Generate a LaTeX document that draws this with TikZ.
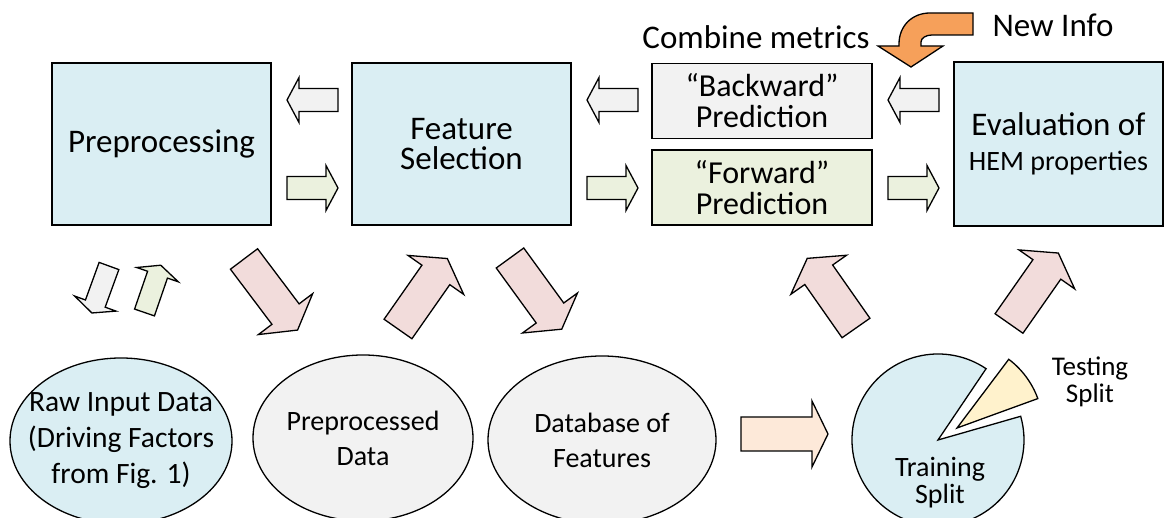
\documentclass[tikz,border=0pt]{standalone}
\usepackage{fontspec}
\setmainfont{Carlito}
\usetikzlibrary{shapes.geometric}
\definecolor{boxblue}{HTML}{DAEEF3}
\definecolor{boxgray}{HTML}{F2F2F2}
\definecolor{boxgreen}{HTML}{EBF1DE}
\definecolor{arrpink}{HTML}{F2DCDB}
\definecolor{arrpeach}{HTML}{FDE9D9}
\definecolor{arrorange}{HTML}{F6A05A}
\definecolor{testyellow}{HTML}{FFF2CC}
\newcommand{\blockarr}[7]{%
  \filldraw[barrow, fill=#7, shift={(#1)}, rotate=#2]
    (0,-#4) -- ({#3-#6},-#4) -- ({#3-#6},-#5) -- (#3,0) -- ({#3-#6},#5) -- ({#3-#6},#4) -- (0,#4) -- cycle;}
\begin{document}
\begin{tikzpicture}[x=1pt,y=1pt,
  box/.style={draw, line width=1.3pt, inner sep=0pt, align=center,
    font=\fontsize{33}{30}\selectfont},
  bigbox/.style={box, fill=boxblue, minimum width=219pt, minimum height=162pt},
  predbox/.style={box, minimum width=220pt, minimum height=75pt, font=\fontsize{32}{31}\selectfont},
  blob/.style={ellipse, draw, line width=1.3pt, inner sep=0pt, align=center,
    font=\fontsize{28}{35}\selectfont},
  barrow/.style={draw, line width=1.3pt, line join=miter},
  lbl/.style={inner sep=0pt, align=center, font=\fontsize{33}{30}\selectfont},
  pielbl/.style={inner sep=0pt, align=center, font=\fontsize{28}{27}\selectfont}]
\useasboundingbox (0,0) rectangle (1165,518);
\clip (0,0) rectangle (1165,518);

% boxes
\node[bigbox] (pre) at (161.5,374) {Preprocessing};
\node[bigbox] (fs) at (461.5,374) {Feature\\Selection};
\node[predbox, fill=boxgray] (back) at (762,417) {``Backward''\\Prediction};
\node[predbox, fill=boxgreen] (fwd) at (762,330.5) {``Forward''\\Prediction};
\node[box, fill=boxblue, minimum width=209pt, minimum height=164pt] (eval) at (1058.5,374) {};
\node[inner sep=0pt, align=center, font=\fontsize{33}{35}\selectfont] (evaltxt) at (eval.center)
  {Evaluation of\\{\fontsize{28}{35}\selectfont HEM properties}};

% ellipses
\node[blob, fill=boxblue, minimum width=222pt, minimum height=166pt] (raw) at (121,77) {};
\node[inner sep=0pt, align=center, font=\fontsize{29.5}{36}\selectfont] (rawtxt) at (raw.center)
  {Raw Input Data\\(Driving Factors\\from Fig. 1)};
\node[blob, fill=boxgray, minimum width=220pt, minimum height=166pt] (ppd) at (363,80) {Preprocessed\\Data};
\node[blob, fill=boxgray, minimum width=228pt, minimum height=168pt] (db) at (602,78) {Database of\\Features};

% pie
\coordinate (piec) at (938,78);
\filldraw[barrow, fill=boxblue] (piec) -- ++(56:86) arc[start angle=56, end angle=376, radius=86] -- cycle;
\coordinate (testc) at (957,90);
\filldraw[barrow, fill=testyellow] (testc) -- ++(20:86) arc[start angle=20, end angle=53, radius=86] -- cycle;
\node[pielbl] (train) at (940,35) {Training\\Split};
\node[pielbl, font=\fontsize{27}{27}\selectfont] (test) at (1090,136) {Testing\\Split};

% labels
\node[lbl] (comb) at (756,481) {Combine metrics};
\node[lbl] (newinfo) at (1053,493) {New Info};

% horizontal block arrows
\blockarr{338,418}{180}{51}{11.5}{22.5}{12}{boxgray}
\blockarr{287,330}{0}{51}{11.5}{22.5}{12}{boxgreen}
\blockarr{638,418}{180}{51}{11.5}{22.5}{12}{boxgray}
\blockarr{587,330}{0}{51}{11.5}{22.5}{12}{boxgreen}
\blockarr{939,418}{180}{51}{11.5}{22.5}{12}{boxgray}
\blockarr{888,330}{0}{51}{11.5}{22.5}{12}{boxgreen}
\blockarr{741,84}{0}{87}{17}{33}{16}{arrpeach}

% diagonal block arrows
\blockarr{244,259}{-53}{89}{17}{34}{20}{arrpink}
\blockarr{398,189}{55}{86}{17}{34}{20}{arrpink}
\blockarr{510,260}{-54}{88}{17}{34}{20}{arrpink}
\blockarr{856,190}{125}{85}{17}{34}{20}{arrpink}
\blockarr{1009,194.5}{55}{86}{17}{34}{20}{arrpink}
\blockarr{109,252}{-110}{50}{10.5}{22}{10}{boxgray}
\blockarr{144.5,205.5}{71}{50}{10.5}{22}{10}{boxgreen}

% new info bent arrow
\filldraw[barrow, fill=arrorange] (973,505) -- (930,505)
  .. controls (912,505) and (899,492) .. (899,474) -- (899,472) -- (878,472) -- (911,451)
  -- (943,472) -- (921,472) -- (921,476)
  .. controls (921,480) and (926,483) .. (932,483) -- (973,483) -- cycle;
\end{tikzpicture}
\end{document}
